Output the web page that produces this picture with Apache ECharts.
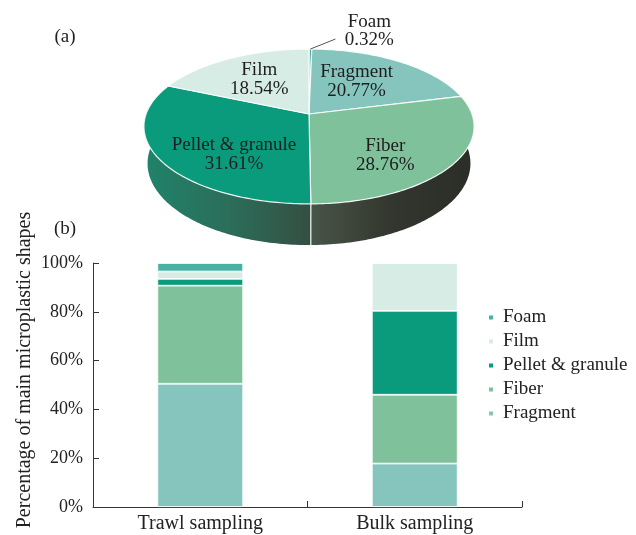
<!DOCTYPE html>
<html>
<head>
<meta charset="utf-8">
<script src="https://cdn.jsdelivr.net/npm/echarts@6/dist/echarts.min.js"></script>
<style>
  html, body { margin: 0; padding: 0; background: #fff; }
  #chart { width: 636px; height: 535px; }
</style>
</head>
<body>
<div id="chart"></div>
<script>
// ---- (a) overall composition by shape ----
const pieNames = ['Foam', 'Fragment', 'Fiber', 'Pellet & granule', 'Film'];
const pieValues = [0.32, 20.77, 28.76, 31.61, 18.54];

// ---- (b) composition per sampling method ----
const categories = ['Trawl sampling', 'Bulk sampling'];
const fragment = [50.5, 17.8];
const fiber = [40.2, 28.2];
const pellet = [2.8, 34.4];
const film = [3.0, 19.6];
const foam = [3.5, 0];
const yTicks = [0, 20, 40, 60, 80, 100];

const colors = {
  'Foam': '#49b1a4',
  'Fragment': '#85c5bd',
  'Fiber': '#7fc19b',
  'Pellet & granule': '#099b7b',
  'Film': '#d6ece5'
};
const FONT = '"Liberation Serif", "Times New Roman", serif';

// ---- perspective disc projection for the 3D pie ----
const P = { cx: 309, cy: 114, F: 896, L: 5.5, sA: 0.463, cA: 0.886, h: 0.259 };
function proj(theta, r, y3) {
  const X = r * Math.sin(theta), Z = -r * Math.cos(theta);
  const depth = P.L - y3 * P.sA - Z * P.cA;
  const sx = X, sy = y3 * P.cA - Z * P.sA;
  return [P.cx + P.F * sx / depth, P.cy - P.F * sy / depth];
}
function hex(c) { return [1, 3, 5].map(i => parseInt(c.slice(i, i + 2), 16)); }
function mix(a, b, k) { return a.map((v, i) => v + (b[i] - v) * k); }
function rgb(a) { return 'rgb(' + a.map(v => Math.round(v)).join(',') + ')'; }
// side wall tone: t = 0 at the left edge, 1 at the right edge
function sideColor(base, theta) {
  const t = Math.min(1, Math.max(0, (1.5 * Math.PI - theta) / Math.PI));
  const gray = mix(hex('#4e5147'), hex('#2b2e27'), t);
  return rgb(mix(hex(base), gray, Math.min(1, 0.33 + t)));
}

const total = pieValues.reduce((a, b) => a + b, 0);
const cum = [0];
pieValues.forEach((v, i) => cum.push(cum[i] + v));
const ang = cum.map(c => c / total * 2 * Math.PI);

const labelTweak = { 'Fragment': [-9, 0], 'Fiber': [-6, 12], 'Pellet & granule': [11, 14], 'Film': [0, 0] };

function renderSlice(params) {
  const i = params.dataIndex;
  const name = pieNames[i];
  const a0 = ang[i], a1 = ang[i + 1];
  const base = colors[name];
  const children = [];
  const step = Math.PI / 180;

  // top face
  const top = [proj(0, 0, 0)];
  for (let t = a0; t < a1; t += step) top.push(proj(t, 1, 0));
  top.push(proj(a1, 1, 0));
  children.push({
    type: 'polygon', z2: 10,
    shape: { points: top },
    style: { fill: base, stroke: 'rgba(255,255,255,0.9)', lineWidth: 1.2, lineJoin: 'round' }
  });

  // front wall
  const lo = 80 * step, hi = 280 * step;
  const s0 = Math.max(a0, lo), s1 = Math.min(a1, hi);
  if (s1 > s0) {
    const pts = [];
    for (let t = s0; t < s1; t += step) pts.push(proj(t, 1, 0));
    pts.push(proj(s1, 1, 0));
    for (let t = s1; t > s0; t -= step) pts.push(proj(t, 1, -P.h));
    pts.push(proj(s0, 1, -P.h));
    // theta at the left / right extremes of the visible wall
    const tl = s1, tr = s0;
    const stops = [0, 0.5, 1].map(k => ({ offset: k, color: sideColor(base, tl + (tr - tl) * k) }));
    children.push({
      type: 'polygon', z2: 1,
      shape: { points: pts },
      style: { fill: new echarts.graphic.LinearGradient(0, 0, 1, 0, stops) }
    });
    [a0, a1].forEach(t => {
      if (t > lo && t < hi) {
        const p1 = proj(t, 1, 0), p2 = proj(t, 1, -P.h);
        children.push({
          type: 'line', z2: 2,
          shape: { x1: p1[0], y1: p1[1], x2: p2[0], y2: p2[1] },
          style: { stroke: 'rgba(230,240,235,0.85)', lineWidth: 1 }
        });
      }
    });
  }

  // labels
  const pct = pieValues[i].toFixed(2) + '%';
  if (name === 'Foam') {
    const p = proj((a0 + a1) / 2, 1, 0);
    children.push({
      type: 'polyline', z2: 12,
      shape: { points: [p, [p[0] + 25, p[1] - 10]] },
      style: { stroke: '#555', lineWidth: 1, fill: null }
    });
    children.push({
      type: 'text', z2: 12, x: p[0] + 59, y: p[1] - 18,
      style: { text: name + '\n' + pct, fill: '#222', font: '19px ' + FONT,
               align: 'center', verticalAlign: 'middle', lineHeight: 18 }
    });
  } else {
    const p = proj((a0 + a1) / 2, 0.6, 0);
    const tw = labelTweak[name] || [0, 0];
    children.push({
      type: 'text', z2: 12, x: p[0] + tw[0], y: p[1] + tw[1],
      style: { text: name + '\n' + pct, fill: '#1e1e1e', font: '19px ' + FONT,
               align: 'center', verticalAlign: 'middle', lineHeight: 19 }
    });
  }
  return { type: 'group', children };
}

function barSeries(name, data) {
  return {
    name, type: 'bar', stack: 'total', data, barWidth: '40%',
    itemStyle: { color: colors[name], borderColor: '#ffffff', borderWidth: 0.8 },
    emphasis: { disabled: true }
  };
}

const chart = echarts.init(document.getElementById('chart'), null, { renderer: 'canvas' });
chart.setOption({
  animation: false,
  backgroundColor: '#ffffff',
  textStyle: { fontFamily: FONT },
  grid: { left: 93, right: 114, top: 263, bottom: 28 },
  legend: {
    orient: 'vertical', left: 482, top: 303,
    data: ['Foam', 'Film', 'Pellet & granule', 'Fiber', 'Fragment'],
    icon: 'rect', itemWidth: 6, itemHeight: 6, itemGap: 5,
    textStyle: { fontFamily: FONT, fontSize: 19, color: '#222', lineHeight: 18, padding: [0, 0, 0, 4] }
  },
  xAxis: {
    type: 'category', data: categories,
    axisLine: { lineStyle: { color: '#333', width: 1 } },
    axisTick: { show: true, inside: true, length: 6, alignWithLabel: false, lineStyle: { color: '#333' } },
    axisLabel: { fontFamily: FONT, fontSize: 20, color: '#222', margin: 7 }
  },
  yAxis: {
    type: 'value', min: yTicks[0], max: yTicks[yTicks.length - 1], interval: 20,
    axisLine: { show: true, lineStyle: { color: '#333', width: 1 } },
    axisTick: { show: true, inside: true, length: 6, lineStyle: { color: '#333' } },
    splitLine: { show: false },
    axisLabel: { formatter: '{value}%', fontFamily: FONT, fontSize: 18, color: '#222', margin: 10 }
  },
  graphic: [
    { type: 'text', x: 65, y: 37, style: { text: '(a)', font: '19px ' + FONT, fill: '#222', align: 'center', verticalAlign: 'middle' } },
    { type: 'text', x: 65, y: 229, style: { text: '(b)', font: '19px ' + FONT, fill: '#222', align: 'center', verticalAlign: 'middle' } },
    { type: 'text', x: 25, y: 370, rotation: Math.PI / 2,
      style: { text: 'Percentage of main microplastic shapes', font: '20px ' + FONT, fill: '#222', align: 'center', verticalAlign: 'middle' } }
  ],
  series: [
    {
      type: 'custom', coordinateSystem: 'none', silent: true,
      data: pieValues.map((v, i) => ({ name: pieNames[i], value: v })),
      renderItem: renderSlice
    },
    barSeries('Fragment', fragment),
    barSeries('Fiber', fiber),
    barSeries('Pellet & granule', pellet),
    barSeries('Film', film),
    barSeries('Foam', foam)
  ]
});
</script>
</body>
</html>
